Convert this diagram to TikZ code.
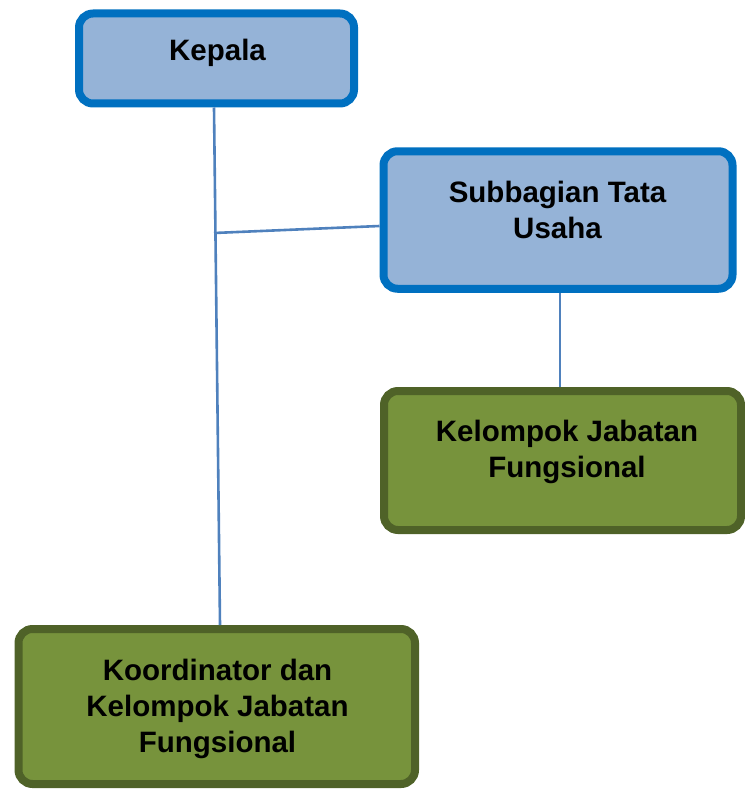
\documentclass[tikz,border=0pt]{standalone}
\usepackage{fontspec}
\setmainfont{Liberation Sans}
\usetikzlibrary{calc}
\definecolor{bfill}{HTML}{95B3D7}
\definecolor{bline}{HTML}{0070C0}
\definecolor{gfill}{HTML}{77933C}
\definecolor{gline}{HTML}{4F6228}
\definecolor{conn}{HTML}{4F81BD}
\tikzset{
  box/.style={draw, line width=8pt, rounded corners=14pt, inner sep=0pt},
  bluebox/.style={box, draw=bline, fill=bfill},
  greenbox/.style={box, draw=gline, fill=gfill},
  lbl/.style={inner sep=0pt, align=center, font=\bfseries\fontsize{29.5}{36}\selectfont},
  link/.style={draw=conn, line width=2.6pt}
}
\begin{document}
\begin{tikzpicture}[x=1pt, y=-1pt]
\useasboundingbox (0,0) rectangle (744,789);
\node[bluebox, minimum width=275pt, minimum height=90pt] (kepala) at (216.5,58.5) {};
\node[bluebox, minimum width=349pt, minimum height=137.5pt] (sub) at (558,220) {};
\node[greenbox, minimum width=357pt, minimum height=139pt] (kel) at (562.5,460.5) {};
\node[greenbox, minimum width=396.5pt, minimum height=155pt] (koord) at (216.75,706.5) {};
\node[lbl] (tkepala) at (217.5,52.5) {Kepala};
\node[lbl] (tsub) at (557.5,210.3) {Subbagian Tata\\Usaha};
\node[lbl] (tkel) at (567,451.5) {Kelompok Jabatan\\Fungsional};
\node[lbl] (tkoord) at (217.5,708.5) {Koordinator dan\\Kelompok Jabatan\\Fungsional};
\coordinate (jn) at (214,233);
\draw[link] ([xshift=-2.5pt]kepala.south) -- ([xshift=3.25pt]koord.north);
\draw[link] (jn) -- ([yshift=-6pt]sub.west);
\draw[link] ([xshift=2pt]sub.south) -- ([xshift=-2.5pt]kel.north);
\end{tikzpicture}
\end{document}
